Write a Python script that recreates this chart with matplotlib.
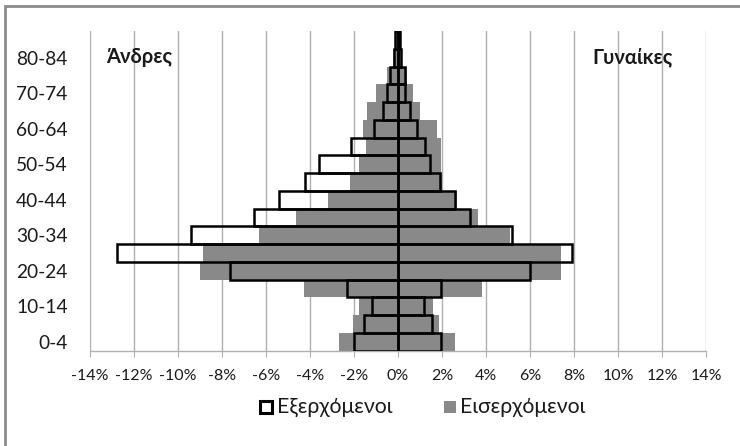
import matplotlib
matplotlib.use("Agg")
import matplotlib.pyplot as plt
from matplotlib.patches import Rectangle
import numpy as np

plt.rcParams['font.family'] = ['Lato', 'Open Sans', 'DejaVu Sans']

age_groups = ['0-4', '5-9', '10-14', '15-19', '20-24', '25-29', '30-34', '35-39',
              '40-44', '45-49', '50-54', '55-59', '60-64', '65-69', '70-74',
              '75-79', '80-84', '85+']

# Percentages per age group (men shown as negative values)
out_men = [-2.0, -1.53, -1.18, -2.32, -7.65, -12.78, -9.4, -6.54, -5.43, -4.25,
           -3.61, -2.12, -1.08, -0.69, -0.48, -0.38, -0.2, -0.15]
out_women = [1.95, 1.56, 1.2, 1.95, 5.98, 7.93, 5.17, 3.28, 2.6, 1.9,
             1.46, 1.24, 0.87, 0.55, 0.34, 0.3, 0.15, 0.1]
in_men = [-2.68, -2.03, -1.77, -4.29, -8.99, -8.88, -6.34, -4.63, -3.2, -2.16,
          -1.77, -1.45, -1.6, -1.39, -0.98, -0.5, -0.25, -0.12]
in_women = [2.59, 1.88, 1.6, 3.81, 7.41, 7.41, 5.1, 3.64, 2.7, 1.99,
            1.95, 1.95, 1.77, 1.02, 0.7, 0.4, 0.2, 0.1]

xticks = np.arange(-14, 15, 2)
xtick_labels = [f'{v}%' for v in xticks]

label_out = 'Εξερχόμενοι'
label_in = 'Εισερχόμενοι'
gray = '#898989'
grid_gray = '#b0b0b0'
text_color = '#1a1a1a'

fig = plt.figure(figsize=(7.4, 4.46), dpi=100)
ax = fig.add_axes([90 / 740, (446 - 350.7) / 446, 616 / 740, 319.7 / 446])

y = np.arange(len(age_groups))

ax.barh(y, in_men, height=1.0, color=gray, zorder=2)
ax.barh(y, in_women, height=1.0, color=gray, zorder=2)
ax.barh(y, out_men, height=1.0, facecolor='none', edgecolor='black',
        linewidth=1.8, zorder=3)
ax.barh(y, out_women, height=1.0, facecolor='none', edgecolor='black',
        linewidth=1.8, zorder=3)

ax.set_xlim(-14, 14)
ax.set_ylim(-0.5, len(age_groups) - 0.5)

ax.set_xticks(xticks)
ax.set_xticklabels(xtick_labels, fontsize=11.5, color=text_color)
ax.set_yticks(y[::2])
ax.set_yticklabels(age_groups[::2], fontsize=13.8, color=text_color)

for v in xticks:
    ax.axvline(v, color=grid_gray, linewidth=1.0, zorder=1)

for side in ['top', 'right', 'left']:
    ax.spines[side].set_visible(False)
ax.spines['bottom'].set_color(grid_gray)
ax.spines['bottom'].set_linewidth(1.0)
ax.tick_params(axis='x', direction='out', length=4, color=grid_gray, pad=9)
ax.tick_params(axis='y', length=0, pad=16)

fig.text(106 / 740, 1 - 57 / 446, 'Άνδρες', fontsize=14.5, fontweight='bold',
         ha='left', va='center', color=text_color)
fig.text(673 / 740, 1 - 57 / 446, 'Γυναίκες', fontsize=14.5, fontweight='bold',
         ha='right', va='center', color=text_color)

# Legend drawn in figure coordinates
ly = 1 - 407 / 446
sq_w, sq_h = 12 / 740, 12 / 446
fig.patches.append(Rectangle((260 / 740, ly - sq_h / 2), sq_w, sq_h,
                             transform=fig.transFigure, facecolor='white',
                             edgecolor='black', linewidth=2.2))
fig.text(277 / 740, ly, label_out, fontsize=15.3, ha='left', va='center',
         color=text_color)
fig.patches.append(Rectangle((444 / 740, ly - sq_h / 2), sq_w, sq_h,
                             transform=fig.transFigure, facecolor=gray,
                             edgecolor='none'))
fig.text(460 / 740, ly, label_in, fontsize=15.3, ha='left', va='center',
         color=text_color)

# Chart area frame
fig.patches.append(Rectangle((5 / 740, -0.05), 1.0, 1 - 6 / 446 + 0.05,
                             transform=fig.transFigure, facecolor='none',
                             edgecolor='#8c8c8c', linewidth=2.0))

fig.savefig('out.png', dpi=100)
